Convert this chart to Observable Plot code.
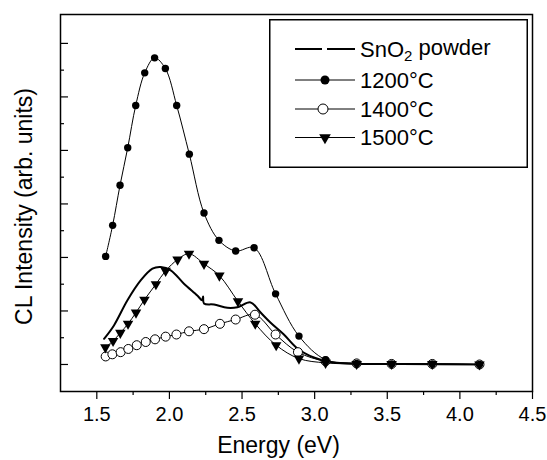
<!DOCTYPE html>
<html>
<head>
<meta charset="utf-8">
<script src="https://cdn.jsdelivr.net/npm/d3@7"></script>
<script src="https://cdn.jsdelivr.net/npm/@observablehq/plot@0.6"></script>
<style>
html, body { margin: 0; padding: 0; background: #fff; }
#chart { position: relative; width: 547px; height: 460px; font-family: "Liberation Sans", Arial, sans-serif; }
#legend { position: absolute; left: 269px; top: 19px; }
</style>
</head>
<body>
<div id="chart"></div>
<script>
// ---- Data ----
const seriesNames = ["SnO2 powder", "1200°C", "1400°C", "1500°C"];

const energySnO2 = [1.550,1.618,1.711,1.802,1.883,1.940,2.009,2.100,2.192,2.225,2.232,2.238,2.307,2.399,2.468,2.559,2.628,2.697,2.788,2.881,2.995,3.100,3.300,3.600,4.150];
const intensitySnO2 = [0.48,0.73,1.20,1.57,1.79,1.82,1.76,1.51,1.29,1.20,1.27,1.14,1.12,1.06,1.07,1.16,0.97,0.78,0.56,0.30,0.13,0.05,0.01,0.01,0.00];

const energy1200 = [1.561,1.609,1.660,1.713,1.768,1.830,1.898,1.972,2.050,2.137,2.238,2.341,2.456,2.583,2.731,2.892,3.075,3.289,3.530,3.810,4.135];
const intensity1200 = [2.02,2.60,3.35,4.05,4.84,5.45,5.73,5.53,4.84,3.93,2.83,2.32,2.12,2.18,1.32,0.53,0.09,0.02,0.01,0.01,0.00];

const energy1400 = [1.561,1.607,1.664,1.717,1.775,1.837,1.901,1.974,2.048,2.135,2.238,2.348,2.456,2.589,2.731,2.885,3.075,3.289,3.530,3.810,4.135];
const intensity1400 = [0.15,0.19,0.23,0.29,0.36,0.42,0.47,0.52,0.56,0.62,0.66,0.76,0.84,0.93,0.56,0.23,0.06,0.02,0.01,0.01,0.00];

const energy1500 = [1.559,1.612,1.662,1.715,1.770,1.828,1.907,1.974,2.056,2.135,2.238,2.344,2.472,2.591,2.735,2.892,3.075,3.289,3.530,3.810,4.135];
const intensity1500 = [0.32,0.44,0.59,0.76,0.97,1.21,1.50,1.75,1.96,2.07,1.88,1.66,1.18,0.76,0.36,0.11,0.03,0.01,0.01,0.01,0.00];

const xMajorTicks = [1.5, 2.0, 2.5, 3.0, 3.5, 4.0, 4.5];
const xMinorTicks = [1.75, 2.25, 2.75, 3.25, 3.75, 4.25];
const yMajorTicks = [0, 1, 2, 3, 4, 5, 6];
const yMinorTicks = [0.5, 1.5, 2.5, 3.5, 4.5, 5.5];

const xLabel = "Energy (eV)";
const yLabel = "CL Intensity (arb. units)";

// ---- Build tables ----
const zip = (xs, ys) => xs.map((e, i) => ({e, i: ys[i]}));
const sSnO2 = zip(energySnO2, intensitySnO2);
const s1200 = zip(energy1200, intensity1200);
const s1400 = zip(energy1400, intensity1400);
const s1500 = zip(energy1500, intensity1500);

const font = "Liberation Sans, Arial, sans-serif";

const plot = Plot.plot({
  width: 547,
  height: 460,
  marginTop: 14,
  marginBottom: 69,
  marginLeft: 60,
  marginRight: 15,
  style: {fontFamily: font, fontSize: "20px", color: "#000", background: "#fff"},
  x: {domain: [1.25, 4.5]},
  y: {domain: [-0.505, 6.54], axis: null},
  marks: [
    Plot.axisX({ticks: xMajorTicks, tickSize: 8, tickPadding: 7, tickFormat: d3.format(".1f"), label: null, strokeWidth: 1.2, fontSize: 20}),
    Plot.axisX({ticks: xMinorTicks, tickSize: 4, tickFormat: () => "", label: null, strokeWidth: 1.2}),
    Plot.tickY(yMajorTicks, {y: d => d, insetRight: 464, strokeWidth: 1.2}),
    Plot.tickY(yMinorTicks, {y: d => d, insetRight: 468, strokeWidth: 1.2}),
    Plot.line(sSnO2, {x: "e", y: "i", curve: "catmull-rom", stroke: "#000", strokeWidth: 2}),
    Plot.line(s1400, {x: "e", y: "i", curve: "catmull-rom", stroke: "#000", strokeWidth: 1}),
    Plot.dot(s1400, {x: "e", y: "i", r: 4.5, fill: "#fff", stroke: "#000", strokeWidth: 1}),
    Plot.line(s1500, {x: "e", y: "i", curve: "catmull-rom", stroke: "#000", strokeWidth: 1}),
    Plot.dot(s1500, {x: "e", y: "i", symbol: "triangle", rotate: 180, r: 3.9, fill: "#000", stroke: "none"}),
    Plot.line(s1200, {x: "e", y: "i", curve: "catmull-rom", stroke: "#000", strokeWidth: 1}),
    Plot.dot(s1200, {x: "e", y: "i", r: 3.7, fill: "#000", stroke: "none"}),
    Plot.frame({stroke: "#000", strokeWidth: 1.5}),
    Plot.text([xLabel], {text: d => d, frameAnchor: "bottom", dx: -18, dy: 54, fontSize: 23, textAnchor: "middle", lineAnchor: "middle", fill: "#000"}),
    Plot.text([yLabel], {text: d => d, frameAnchor: "left", rotate: -90, dx: -36, dy: 3.5, fontSize: 23, textAnchor: "middle", lineAnchor: "middle", fill: "#000"})
  ]
});

const chart = document.getElementById("chart");
chart.appendChild(plot);

// ---- Legend (overlay inside the plot frame) ----
const lw = 259, lh = 149;
const legend = d3.create("svg")
  .attr("id", "legend")
  .attr("width", lw)
  .attr("height", lh)
  .style("font-family", font);
legend.append("rect")
  .attr("x", 0.75).attr("y", 0.75)
  .attr("width", lw - 1.5).attr("height", lh - 1.5)
  .attr("fill", "#fff").attr("stroke", "#000").attr("stroke-width", 1.5);

const rowY = [30, 61, 90, 118.5];
const sx0 = 26, sx1 = 86, mx = 56, tx = 91;
seriesNames.forEach((name, k) => {
  const y = rowY[k];
  const g = legend.append("g");
  const line = g.append("line")
    .attr("x1", sx0).attr("x2", sx1).attr("y1", y).attr("y2", y)
    .attr("stroke", "#000");
  if (k === 0) {
    line.attr("stroke-width", 2).attr("stroke-dasharray", "27,5,28");
  } else {
    line.attr("stroke-width", 1);
  }
  if (k === 1) {
    g.append("circle").attr("cx", mx).attr("cy", y).attr("r", 4.5).attr("fill", "#000");
  } else if (k === 2) {
    g.append("circle").attr("cx", mx - 2).attr("cy", y).attr("r", 5).attr("fill", "#fff").attr("stroke", "#000");
  } else if (k === 3) {
    const sym = d3.symbol(d3.symbolTriangle, Math.PI * 4.3 * 4.3)();
    g.append("path").attr("d", sym).attr("transform", `translate(${mx},${y}) rotate(180)`).attr("fill", "#000");
  }
  const t = g.append("text").attr("x", tx).attr("y", y).attr("dy", "0.36em")
    .attr("font-size", 22).attr("fill", "#000");
  const m = name.match(/^(SnO)(2)(.*)$/);
  if (m) {
    t.append("tspan").text(m[1]);
    t.append("tspan").text(m[2]).attr("font-size", 15).attr("dy", "0.3em");
    t.append("tspan").text(m[3]).attr("dy", "-0.3em");
  } else {
    t.text(name);
  }
});
chart.appendChild(legend.node());
</script>
</body>
</html>
